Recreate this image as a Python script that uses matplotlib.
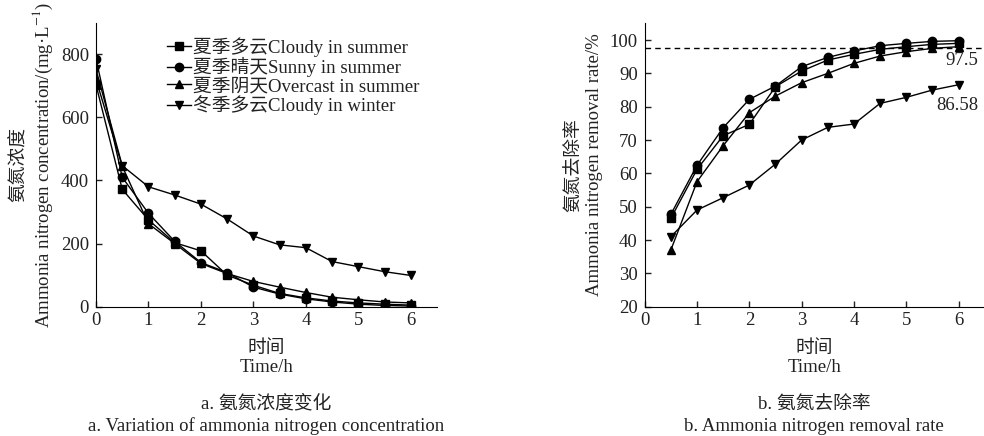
import matplotlib
matplotlib.use("Agg")
import matplotlib.pyplot as plt

plt.rcParams['font.family'] = ['Liberation Serif', 'Noto Sans CJK SC']
plt.rcParams['mathtext.fontset'] = 'stix'
plt.rcParams['axes.unicode_minus'] = False

t_conc = [0, 0.5, 1, 1.5, 2, 2.5, 3, 3.5, 4, 4.5, 5, 5.5, 6]
conc_cloudy_summer = [703, 372, 275, 203, 177, 100, 68, 42, 28, 18, 12, 8, 5]
conc_sunny_summer = [785, 410, 296, 207, 140, 108, 62, 40, 25, 15, 8, 4, 2]
conc_overcast_summer = [720, 445, 263, 200, 137, 105, 80, 62, 45, 30, 22, 15, 12]
conc_cloudy_winter = [752, 447, 380, 354, 325, 278, 224, 196, 187, 143, 127, 111, 99]

t_rate = [0.5, 1, 1.5, 2, 2.5, 3, 3.5, 4, 4.5, 5, 5.5, 6]
rate_cloudy_summer = [46.5, 61.2, 71.3, 74.7, 86.0, 90.7, 94.0, 95.7, 97.2, 98.0, 98.7, 99.0]
rate_sunny_summer = [47.7, 62.4, 73.7, 82.2, 86.2, 92.0, 94.8, 96.7, 98.3, 99.0, 99.6, 99.8]
rate_overcast_summer = [37.0, 57.5, 68.3, 78.2, 83.2, 87.2, 90.0, 93.0, 95.2, 96.5, 97.5, 98.0]
rate_cloudy_winter = [41.0, 49.0, 52.7, 56.5, 62.8, 70.0, 73.8, 74.8, 81.0, 82.8, 85.0, 86.58]

labels = ['夏季多云Cloudy in summer', '夏季晴天Sunny in summer',
          '夏季阴天Overcast in summer', '冬季多云Cloudy in winter']
markers = ['s', 'o', '^', 'v']
threshold = 97.5

fs = 13.5
tc = '#222'
fig = plt.figure(figsize=(9.84, 4.36), dpi=100)
ax1 = fig.add_axes([96/984, 1-306.7/436, 341/984, 284/436])
ax2 = fig.add_axes([644.7/984, 1-306.7/436, 340/984, 284/436])

for ys, m, lab in zip([conc_cloudy_summer, conc_sunny_summer, conc_overcast_summer, conc_cloudy_winter], markers, labels):
    ax1.plot(t_conc, ys, color='black', lw=1, marker=m, markersize=6, label=lab)
for ys, m in zip([rate_cloudy_summer, rate_sunny_summer, rate_overcast_summer, rate_cloudy_winter], markers):
    ax2.plot(t_rate, ys, color='black', lw=1, marker=m, markersize=6)

ax2.axhline(threshold, color='black', lw=1, ls=(0, (4, 3)))
ax2.text(6.37, 94.0, '97.5', ha='right', va='center', fontsize=fs, color=tc)
ax2.text(6.37, 80.5, '86.58', ha='right', va='center', fontsize=fs, color=tc)

ax1.set_xlim(0, 6.5)
ax1.set_ylim(0, 900)
ax1.set_yticks([0, 200, 400, 600, 800])
ax2.set_xlim(0, 6.5)
ax2.set_ylim(20, 105.2)
ax2.set_yticks(range(20, 101, 10))

for ax in (ax1, ax2):
    ax.set_xticks(range(0, 7))
    ax.spines['top'].set_visible(False)
    ax.spines['right'].set_visible(False)
    ax.tick_params(direction='in', length=4, width=1, labelsize=fs, colors=tc)
    ax.tick_params(axis='x', pad=4)
    ax.tick_params(axis='y', pad=5)
    ax.set_xlabel('时间\nTime/h', fontsize=fs, color=tc, linespacing=1.15, labelpad=8)

ax1.set_ylabel('氨氮浓度\nAmmonia nitrogen concentration/(mg·L$^{-1}$)', fontsize=fs,
               color=tc, linespacing=1.2, labelpad=4)
ax2.set_ylabel('氨氮去除率\nAmmonia nitrogen removal rate/%', fontsize=fs,
               color=tc, linespacing=1.2, labelpad=5)

leg = ax1.legend(loc='upper right', bbox_to_anchor=(0.97, 0.975), frameon=False, fontsize=fs,
                 handlelength=1.3, handletextpad=0.1, labelspacing=0.02, borderaxespad=0.0)
for txt in leg.get_texts():
    txt.set_color(tc)

fig.text(266.5/984, 1-404/436, 'a. 氨氮浓度变化', ha='center', va='center', fontsize=fs, color=tc)
fig.text(266.5/984, 1-426/436, 'a. Variation of ammonia nitrogen concentration', ha='center', va='center', fontsize=fs, color=tc)
fig.text(814/984, 1-405/436, 'b. 氨氮去除率', ha='center', va='center', fontsize=fs, color=tc)
fig.text(814/984, 1-426/436, 'b. Ammonia nitrogen removal rate', ha='center', va='center', fontsize=fs, color=tc)

fig.savefig('out.png', dpi=100)
